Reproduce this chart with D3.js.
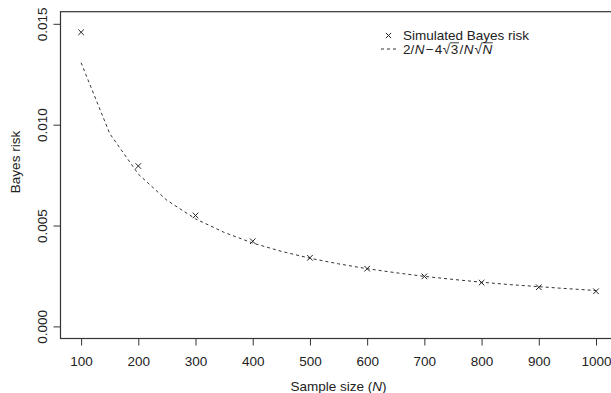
<!DOCTYPE html>
<html>
<head>
<meta charset="utf-8">
<script src="https://cdn.jsdelivr.net/npm/d3@7"></script>
<style>
  html, body { margin: 0; padding: 0; background: #fff; }
  svg { display: block; font-family: "Liberation Sans", Arial, sans-serif; }
</style>
</head>
<body>
<svg id="chart" width="611" height="393"></svg>
<script>
// ---- data ----
const sampleSizes = [100, 200, 300, 400, 500, 600, 700, 800, 900, 1000];
const simulatedRisk = [0.01458, 0.00795, 0.00550, 0.00422, 0.00340, 0.00286, 0.00248, 0.00217, 0.00194, 0.00174];
const curveN = [100, 150, 200, 250, 300, 350, 400, 450, 500, 550, 600, 650, 700, 750, 800, 850, 900, 950, 1000];
const curveRisk = [0.01307, 0.00956, 0.00755, 0.00625, 0.00533, 0.00466, 0.00413, 0.00372, 0.00338, 0.00310, 0.00286, 0.00266, 0.00248, 0.00233, 0.00219, 0.00207, 0.00197, 0.00187, 0.00178];
const xTicks = [100, 200, 300, 400, 500, 600, 700, 800, 900, 1000];
const yTicks = [0.000, 0.005, 0.010, 0.015];
const xDomain = [64, 1036];
const yDomain = [-0.0006, 0.0156];

// ---- layout ----
const svg = d3.select("#chart");
const pLeft = 60.5, pRight = 616.6, pTop = 11.7, pBottom = 338.5;
const x = d3.scaleLinear().domain(xDomain).range([pLeft, pRight]);
const y = d3.scaleLinear().domain(yDomain).range([pBottom, pTop]);
const ink = "#222";
const fontSize = 13.5;

// box
svg.append("rect")
  .attr("x", pLeft).attr("y", pTop)
  .attr("width", pRight - pLeft).attr("height", pBottom - pTop)
  .attr("fill", "none").attr("stroke", "#333").attr("stroke-width", 1.2);

// x axis
const gx = svg.append("g")
  .attr("transform", `translate(0,${pBottom})`)
  .call(d3.axisBottom(x).tickValues(xTicks).tickSize(7).tickPadding(11).tickFormat(d3.format("d")));
gx.select(".domain").attr("d", `M${x(xTicks[0])},0H${x(xTicks[xTicks.length-1])}`).attr("stroke", "#333");
gx.selectAll(".tick line").attr("stroke", "#333");
gx.selectAll("text").attr("fill", ink).attr("font-size", fontSize).attr("font-family", "Liberation Sans, Arial, sans-serif");

// y axis
const gy = svg.append("g")
  .attr("transform", `translate(${pLeft},0)`)
  .call(d3.axisLeft(y).tickValues(yTicks).tickSize(7).tickFormat(d3.format(".3f")));
gy.select(".domain").attr("d", `M0,${y(yTicks[0])}V${y(yTicks[yTicks.length-1])}`).attr("stroke", "#333");
gy.selectAll(".tick line").attr("stroke", "#333");
gy.selectAll("text")
  .attr("x", null).attr("dy", null).attr("y", null)
  .attr("transform", "translate(-14,0) rotate(-90)")
  .attr("text-anchor", "middle")
  .attr("fill", ink).attr("font-size", fontSize).attr("font-family", "Liberation Sans, Arial, sans-serif");

// axis titles
const xt = svg.append("text")
  .attr("x", (pLeft + pRight) / 2).attr("y", 390.5)
  .attr("text-anchor", "middle").attr("fill", ink).attr("font-size", fontSize);
xt.append("tspan").text("Sample size (");
xt.append("tspan").attr("font-style", "italic").text("N");
xt.append("tspan").text(")");

svg.append("text")
  .attr("transform", "translate(20,162) rotate(-90)")
  .attr("text-anchor", "middle").attr("fill", ink).attr("font-size", fontSize)
  .text("Bayes risk");

// curve
svg.append("path")
  .datum(curveN.map((n, i) => [n, curveRisk[i]]))
  .attr("fill", "none").attr("stroke", "#333").attr("stroke-width", 1)
  .attr("stroke-dasharray", "3,3")
  .attr("d", d3.line().x(d => x(d[0])).y(d => y(d[1])));

// points (x marks)
const cross = (cx, cy, s) => `M${cx - s},${cy - s}L${cx + s},${cy + s}M${cx - s},${cy + s}L${cx + s},${cy - s}`;
svg.append("g").selectAll("path")
  .data(sampleSizes.map((n, i) => [n, simulatedRisk[i]]))
  .join("path")
  .attr("d", d => cross(x(d[0]), y(d[1]), 2.8))
  .attr("stroke", "#222").attr("stroke-width", 1).attr("fill", "none");

// legend
const lg = svg.append("g");
lg.append("path").attr("d", cross(388.5, 35.5, 2.6)).attr("stroke", "#222").attr("stroke-width", 1);
lg.append("text").attr("x", 403).attr("y", 39.7).attr("fill", ink).attr("font-size", fontSize).text("Simulated Bayes risk");
lg.append("line").attr("x1", 381).attr("x2", 398).attr("y1", 49).attr("y2", 49)
  .attr("stroke", "#333").attr("stroke-dasharray", "3,3");

// formula: 2/N − 4√3 / N√N  built piece by piece
const parts = [
  { t: "2/", it: false, gap: 0.5 },
  { t: "N", it: true, gap: 1.2 },
  { t: "\u2212", it: false, gap: 1.2 },
  { t: "4", it: false, gap: 0.5 },
  { t: "\u221A", it: false, gap: 0.6 },
  { t: "3", it: false, over: true, gap: 1.2 },
  { t: "/", it: false, gap: 0.5 },
  { t: "N", it: true, gap: 0.8 },
  { t: "\u221A", it: false, gap: 0.6 },
  { t: "N", it: true, over: true, gap: 0 }
];
let penX = 403;
const baseY = 54;
parts.forEach(p => {
  const t = lg.append("text").attr("x", penX).attr("y", baseY)
    .attr("fill", ink).attr("font-size", fontSize)
    .attr("font-style", p.it ? "italic" : "normal")
    .text(p.t);
  const w = t.node().getComputedTextLength();
  if (p.over) {
    lg.append("line").attr("x1", penX - 0.8).attr("x2", penX + w + 0.6)
      .attr("y1", baseY - 11.2).attr("y2", baseY - 11.2)
      .attr("stroke", ink).attr("stroke-width", 0.9);
  }
  penX += w + p.gap;
});
</script>
</body>
</html>
